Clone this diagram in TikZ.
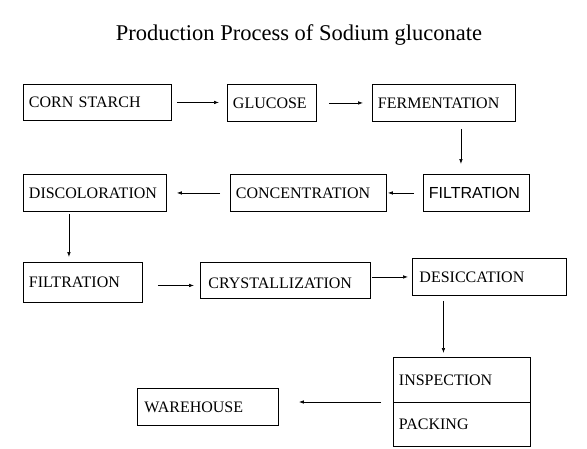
\documentclass[tikz,border=0pt]{standalone}
\usepackage{fontspec}
\setmainfont{Liberation Serif}
\newfontfamily\arialfont{Liberation Sans}
\usetikzlibrary{arrows.meta}

\begin{document}
\begin{tikzpicture}[x=1pt, y=-1pt,
    stagebox/.style={draw, line width=0.9pt, anchor=north west, align=left,
        inner xsep=5.5pt, inner ysep=0pt, font=\fontsize{16}{18}\selectfont},
    flow/.style={-{Latex[length=5pt,width=3.6pt]}, line width=0.7pt}]
    \useasboundingbox (0,0) rectangle (587,448);
    \node[font=\fontsize{22.5}{26}\selectfont] (title) at (299,35) {Production Process of Sodium gluconate};
    % first row
    \node[stagebox, text width=137pt, minimum height=36pt] (corn) at (23,84) {CORN STARCH};
    \node[stagebox, text width=78pt, minimum height=37pt] (glucose) at (227,84) {GLUCOSE};
    \node[stagebox, text width=132pt, minimum height=37pt] (ferment) at (372,84) {FERMENTATION};
    % second row
    \node[stagebox, text width=132pt, minimum height=37pt] (discolor) at (23,174) {DISCOLORATION};
    \node[stagebox, text width=145pt, minimum height=37pt] (concent) at (230,174) {CONCENTRATION};
    \node[stagebox, text width=95pt, minimum height=37pt, font=\arialfont\fontsize{16}{18}\selectfont] (filterA) at (423,174) {FILTRATION};
    % third row
    \node[stagebox, text width=108pt, minimum height=40pt] (filterB) at (23,262) {FILTRATION};
    \node[stagebox, inner xsep=8pt, text width=154pt, text height=16pt, minimum height=36pt] (crystal) at (200,262) {CRYSTALLIZATION};
    \node[stagebox, inner xsep=7pt, text width=140pt, minimum height=37pt] (desicc) at (412,258) {DESICCATION};
    % last row
    \node[stagebox, text width=126pt, minimum height=45pt] (inspect) at (393,357) {INSPECTION};
    \node[stagebox, text width=126pt, minimum height=44pt] (packing) at (393,402) {PACKING};
    \node[stagebox, inner xsep=7pt, text width=127pt, minimum height=37pt] (warehouse) at (137,388) {WAREHOUSE};

    \draw[flow, shorten <=5pt, shorten >=8pt] (corn) -- (corn -| glucose.west);
    \draw[flow, shorten <=12pt, shorten >=9pt] (glucose) -- (glucose -| ferment.west);
    \draw[flow, shorten <=7pt, shorten >=10pt] ([xshift=17pt]ferment.south) -- ([xshift=17pt]ferment.south |- filterA.north);
    \draw[flow, shorten <=9pt, shorten >=1pt] (filterA) -- (filterA -| concent.east);
    \draw[flow, shorten <=10pt, shorten >=10pt] (concent) -- (concent -| discolor.east);
    \draw[flow, shorten <=2pt, shorten >=5pt] ([xshift=-26pt]discolor.south) -- ([xshift=-26pt]discolor.south |- filterB.north);
    \draw[flow, shorten <=15pt, shorten >=6pt] ([yshift=-3pt]filterB.east) -- ([yshift=-3pt]filterB.east -| crystal.west);
    \draw[flow, shorten <=1pt, shorten >=4pt] (desicc.west -| crystal.east) -- (desicc.west);
    \draw[flow, shorten <=5pt, shorten >=4pt] ([xshift=-46pt]desicc.south) -- ([xshift=-46pt]desicc.south |- inspect.north);
    \draw[flow, shorten <=12pt, shorten >=20pt] (packing.north west) -- (packing.north west -| warehouse.east);
\end{tikzpicture}
\end{document}
